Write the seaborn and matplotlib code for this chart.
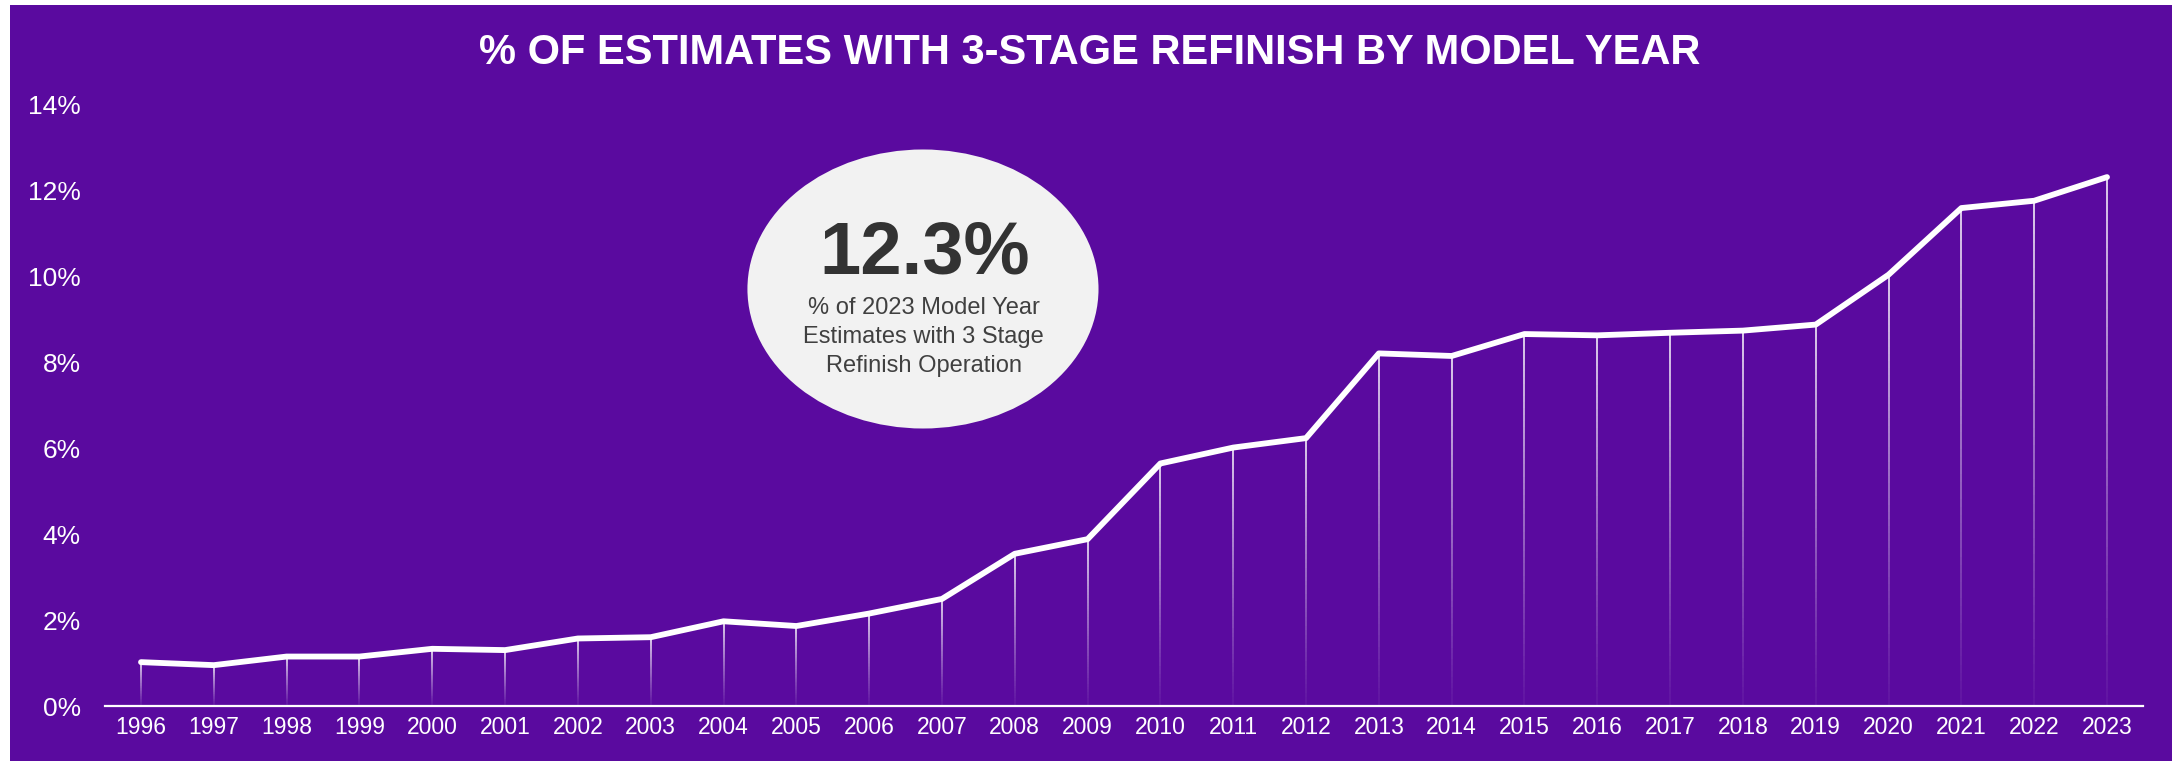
import numpy as np
import matplotlib
matplotlib.use("Agg")
import matplotlib.pyplot as plt
import seaborn as sns
from matplotlib.collections import LineCollection
from matplotlib.patches import Ellipse, Rectangle

# ---- data -------------------------------------------------------------
years = list(range(1996, 2024))
share_pct = [1.02, 0.95, 1.15, 1.15, 1.33, 1.30, 1.57, 1.60, 1.97, 1.86,
             2.15, 2.49, 3.54, 3.88, 5.64, 6.01, 6.23, 8.20, 8.14, 8.65,
             8.62, 8.68, 8.73, 8.87, 10.03, 11.58, 11.75, 12.3]
y_ticks = [0, 2, 4, 6, 8, 10, 12, 14]
y_tick_labels = [f"{t}%" for t in y_ticks]
title = "% OF ESTIMATES WITH 3-STAGE REFINISH BY MODEL YEAR"
callout_lines = ["% of 2023 Model Year", "Estimates with 3 Stage", "Refinish Operation"]

# ---- style ------------------------------------------------------------
PURPLE = "#5A0A9F"
W, H = 2172, 761
sns.set_style("white")
plt.rcParams["font.family"] = ["Liberation Sans", "DejaVu Sans"]


def px(x, y):
    """Pixel position (from top-left) to figure fraction."""
    return x / W, 1 - y / H


fig = plt.figure(figsize=(W / 100, H / 100), dpi=100, facecolor="white")
fig.patches.append(Rectangle((10 / W, 0), 1 - 10 / W, 1 - 5 / H,
                             transform=fig.transFigure, facecolor=PURPLE,
                             edgecolor="none", zorder=-10))

left, right = 104.6 / W, 2143.4 / W
bottom, top = 1 - 706 / H, 1 - 104 / H
ax = fig.add_axes([left, bottom, right - left, top - bottom])
ax.set_facecolor("none")

# fading drop lines from each point down to the baseline
n_seg = 60
segs, cols = [], []
for x, v in zip(years, share_pct):
    edges = np.linspace(0, v, n_seg + 1)
    for k in range(n_seg):
        segs.append([(x, edges[k]), (x, edges[k + 1])])
        a = 0.05 + 0.88 * (k / (n_seg - 1)) ** 1.1
        cols.append((1, 1, 1, a))
ax.add_collection(LineCollection(segs, colors=cols, linewidths=1.2, zorder=2))

# main trend line
sns.lineplot(x=years, y=share_pct, ax=ax, color="white", linewidth=4.2, zorder=3)
ax.lines[-1].set_solid_capstyle("round")

ax.set_xlim(1995.5, 2023.5)
ax.set_ylim(0, 14)
ax.set_xticks(years)
ax.set_xticklabels([str(y) for y in years], fontsize=16.5, color="white")
ax.set_yticks(y_ticks)
ax.set_yticklabels(y_tick_labels, fontsize=19, color="white")
ax.tick_params(axis="x", length=0, pad=7.5)
ax.tick_params(axis="y", length=0, pad=17)
ax.set_xlabel("")
ax.set_ylabel("")
for side in ["top", "right", "left"]:
    ax.spines[side].set_visible(False)
ax.spines["bottom"].set_color("white")
ax.spines["bottom"].set_linewidth(1.6)
ax.grid(False)

# title
fig.text(*px(1090, 63.5), title, ha="center", va="baseline",
         fontsize=30, fontweight="bold", color="white")

# callout bubble
ax.add_patch(Ellipse((0.4014, 0.6927), 0.1722, 0.4635, transform=ax.transAxes,
                     facecolor="#F2F2F2", edgecolor="none", zorder=5))
fig.text(*px(925, 274), f"{share_pct[-1]:.1f}%", ha="center", va="baseline",
         fontsize=53.5, fontweight="bold", color="#333333", zorder=6)
for txt, base in zip(callout_lines, [314, 343.3, 371.7]):
    fig.text(*px(923.5, base), txt, ha="center", va="baseline",
             fontsize=17, color="#404040", zorder=6)

fig.savefig("out.png", dpi=100, facecolor=fig.get_facecolor())
